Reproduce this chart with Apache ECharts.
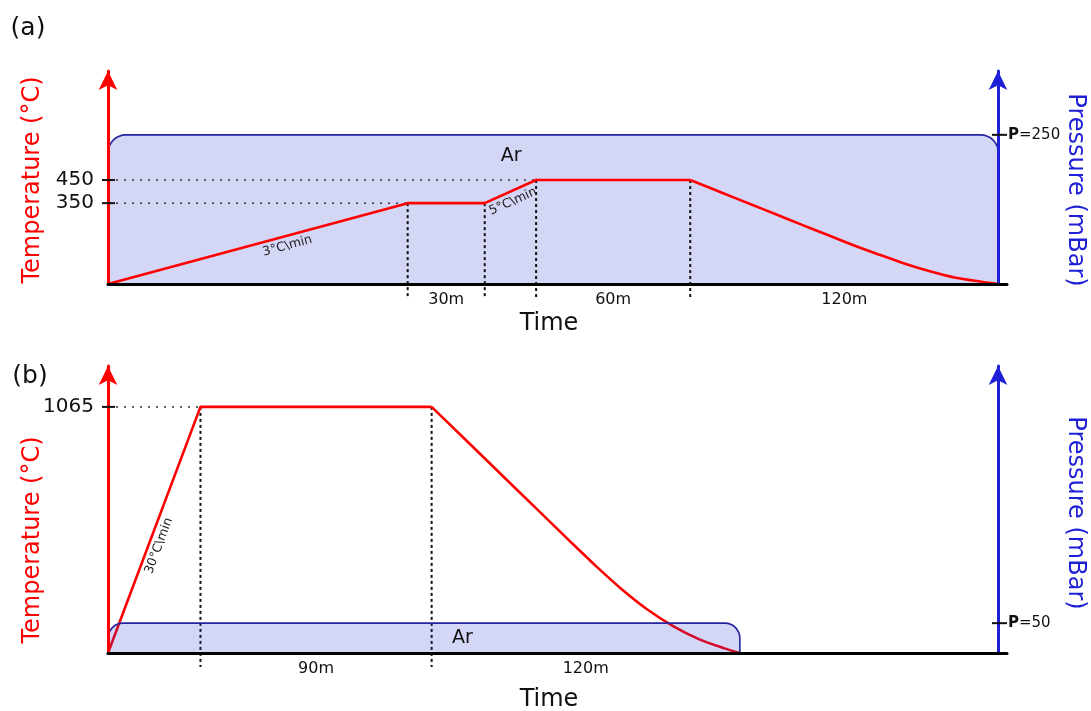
<!DOCTYPE html>
<html>
<head>
<meta charset="utf-8">
<script src="https://cdn.jsdelivr.net/npm/echarts@6/dist/echarts.min.js"></script>
<style>
  html, body { margin: 0; padding: 0; background: #fff; }
  #chart { width: 1091px; height: 711px; }
</style>
</head>
<body>
<div id="chart"></div>
<script>
// ---------- Profile (a): two-step anneal at 350 / 450 °C under Ar ----------
const rampTimeA = [0, 116.67, 146.67, 166.67, 226.67];          // min
const rampTempA = [0, 350, 350, 450, 450];                      // °C
const coolTimeA = [226.67, 240, 250, 260, 270, 280, 290, 300, 310, 320, 330, 340, 346.67];
const coolTempA = [450, 391, 346, 302, 257, 213, 169, 128, 89, 55, 27, 10, 0];
const gasNameA = 'Ar';
const gasPressureA = 250;                                       // mBar
const gasSpanA = [0, 346.67];
const tempTicksA = [350, 450];
const levelTimeA = [116.67, 166.67];                            // dotted level guides
const levelTempA = [350, 450];
const stepTimeA = [116.67, 146.67, 166.67, 226.67];             // dashed step guides
const stepTempA = [350, 350, 450, 450];
const spanLabelsA = ['30m', '60m', '120m'];
const spanStartA = [116.67, 166.67, 226.67];
const spanEndA = [146.67, 226.67, 346.67];
const rateLabelsA = ['3°C\\min', '5°C\\min'];
const rateFromA = [[0, 0], [146.67, 350]];
const rateToA = [[116.67, 350], [166.67, 450]];

// ---------- Profile (b): 1065 °C anneal, low Ar pressure ----------
const rampTimeB = [0, 36, 126];
const rampTempB = [0, 1065, 1065];
const coolTimeB = [126, 140, 150, 160, 170, 180, 190, 200, 210, 220, 230, 240, 246];
const coolTempB = [1065, 914, 806, 698, 590, 482, 376, 276, 188, 116, 60, 20, 0];
const gasNameB = 'Ar';
const gasPressureB = 50;
const gasSpanB = [0, 246];
const tempTicksB = [1065];
const levelTimeB = [36];
const levelTempB = [1065];
const stepTimeB = [36, 126];
const stepTempB = [1065, 1065];
const spanLabelsB = ['90m', '120m'];
const spanStartB = [36, 126];
const spanEndB = [126, 246];
const rateLabelsB = ['30°C\\min'];
const rateFromB = [[0, 0]];
const rateToB = [[36, 1065]];

// ---------- styling ----------
const FONT = 'DejaVu Sans';
const RED = '#ff0000';
const BLUE = '#1f1fd6';
const NAVY = '#24249e';
const INK = '#111111';
const GAS_FILL = 'rgba(40,48,210,0.2)';
const AXIS_INSET = 9;   // pressure axis sits this far inside the grid's right edge

const panels = [
  {
    ramp: rampTimeA.map((t, i) => [t, rampTempA[i]]),
    cool: coolTimeA.map((t, i) => [t, coolTempA[i]]),
    gas: [[gasSpanA[0], gasSpanA[1], gasPressureA]], gasName: gasNameA,
    ticks: tempTicksA.map(v => [0, v]),
    pTicks: [[0, gasPressureA]],
    levels: levelTimeA.map((t, i) => [t, levelTempA[i]]),
    steps: stepTimeA.map((t, i) => [t, stepTempA[i]]),
    spans: spanStartA.map((t, i) => [t, spanEndA[i]]), spanLabels: spanLabelsA,
    rates: rateFromA.map((p, i) => [p[0], p[1], rateToA[i][0], rateToA[i][1]]), rateLabels: rateLabelsA,
    ratePlace: [0.59, 0.47],
    gasOnTop: false, radius: 18, gasLabel: { t: 157, dy: 21 }
  },
  {
    ramp: rampTimeB.map((t, i) => [t, rampTempB[i]]),
    cool: coolTimeB.map((t, i) => [t, coolTempB[i]]),
    gas: [[gasSpanB[0], gasSpanB[1], gasPressureB]], gasName: gasNameB,
    ticks: tempTicksB.map(v => [0, v]),
    pTicks: [[0, gasPressureB]],
    levels: levelTimeB.map((t, i) => [t, levelTempB[i]]),
    steps: stepTimeB.map((t, i) => [t, stepTempB[i]]),
    spans: spanStartB.map((t, i) => [t, spanEndB[i]]), spanLabels: spanLabelsB,
    rates: rateFromB.map((p, i) => [p[0], p[1], rateToB[i][0], rateToB[i][1]]), rateLabels: rateLabelsB,
    ratePlace: [0.45],
    gasOnTop: true, radius: 15, gasLabel: { t: 138, dy: 15 }
  }
];

function panelSeries(g, d) {
  const xi = g, ti = 2 * g, pi = 2 * g + 1;
  const txt = (extra) => Object.assign({ fontFamily: FONT, fill: INK }, extra);
  return [
    // gas pressure plateau
    {
      type: 'custom', xAxisIndex: xi, yAxisIndex: pi, z: d.gasOnTop ? 4 : 1,
      data: d.gas, encode: { x: [0, 1], y: 2 },
      renderItem: (params, api) => {
        const a = api.coord([api.value(0), api.value(2)]);
        const b = api.coord([api.value(1), 0]);
        const lx = api.coord([d.gasLabel.t, 0])[0];
        return {
          type: 'group', children: [
            { type: 'rect', shape: { x: a[0], y: a[1], width: b[0] - a[0], height: b[1] - a[1], r: [d.radius, d.radius, 0, 0] },
              style: { fill: GAS_FILL, stroke: NAVY, lineWidth: 1.6 } },
            { type: 'text', x: lx, y: a[1] + d.gasLabel.dy,
              style: txt({ text: d.gasName, fontSize: 19, align: 'center', verticalAlign: 'middle' }) }
          ]
        };
      }
    },
    // temperature program
    {
      type: 'line', xAxisIndex: xi, yAxisIndex: ti, z: 3, data: d.ramp,
      symbol: 'none', lineStyle: { color: RED, width: 2.6 }, silent: true
    },
    {
      type: 'line', xAxisIndex: xi, yAxisIndex: ti, z: 3, data: d.cool,
      smooth: 0.3,
      symbol: 'none', lineStyle: { color: RED, width: 2.6 }, silent: true
    },
    // dotted level guides from the temperature axis
    {
      type: 'custom', xAxisIndex: xi, yAxisIndex: ti, z: 2, data: d.levels,
      renderItem: (params, api) => {
        const p = api.coord([api.value(0), api.value(1)]);
        const x0 = api.coord([0, api.value(1)])[0];
        return { type: 'line', shape: { x1: x0, y1: p[1], x2: p[0], y2: p[1] },
          style: { stroke: '#333', lineWidth: 1.5, lineDash: [2, 6] } };
      }
    },
    // dashed step guides down past the time axis
    {
      type: 'custom', xAxisIndex: xi, yAxisIndex: ti, z: 2, data: d.steps,
      renderItem: (params, api) => {
        const p = api.coord([api.value(0), api.value(1)]);
        const yb = api.coord([api.value(0), 0])[1];
        return { type: 'line', shape: { x1: p[0], y1: p[1], x2: p[0], y2: yb + 14 },
          style: { stroke: INK, lineWidth: 2, lineDash: [3, 3] } };
      }
    },
    // temperature ticks and labels
    {
      type: 'custom', xAxisIndex: xi, yAxisIndex: ti, z: 11, data: d.ticks,
      renderItem: (params, api) => {
        const p = api.coord([api.value(0), api.value(1)]);
        return {
          type: 'group', children: [
            { type: 'line', shape: { x1: p[0] - 6, y1: p[1], x2: p[0] + 7, y2: p[1] }, style: { stroke: INK, lineWidth: 2 } },
            { type: 'text', x: p[0] - 14, y: p[1],
              style: txt({ text: String(api.value(1)), fontSize: 20, align: 'right', verticalAlign: 'middle' }) }
          ]
        };
      }
    },
    // pressure tick and label
    {
      type: 'custom', xAxisIndex: xi, yAxisIndex: pi, z: 11, data: d.pTicks,
      renderItem: (params, api) => {
        const cs = params.coordSys;
        const x = cs.x + cs.width - AXIS_INSET;
        const y = api.coord([0, api.value(1)])[1];
        return {
          type: 'group', children: [
            { type: 'line', shape: { x1: x - 6, y1: y, x2: x + 9, y2: y }, style: { stroke: INK, lineWidth: 2 } },
            { type: 'text', x: x + 10, y: y,
              style: txt({ text: '{b|P}=' + api.value(1), fontSize: 15, align: 'left', verticalAlign: 'middle',
                rich: { b: { fontFamily: FONT, fontSize: 15, fontWeight: 'bold', fill: INK } } }) }
          ]
        };
      }
    },
    // segment duration labels
    {
      type: 'custom', xAxisIndex: xi, yAxisIndex: ti, z: 5, data: d.spans,
      renderItem: (params, api) => {
        const a = api.coord([api.value(0), 0]);
        const b = api.coord([api.value(1), 0]);
        return { type: 'text', x: (a[0] + b[0]) / 2, y: a[1] + 16,
          style: txt({ text: d.spanLabels[params.dataIndex], fontSize: 16, align: 'center', verticalAlign: 'middle' }) };
      }
    },
    // heating-rate labels along the ramps
    {
      type: 'custom', xAxisIndex: xi, yAxisIndex: ti, z: 5, data: d.rates,
      renderItem: (params, api) => {
        const p0 = api.coord([api.value(0), api.value(1)]);
        const p1 = api.coord([api.value(2), api.value(3)]);
        const th = Math.atan2(p0[1] - p1[1], p1[0] - p0[0]);
        const f = d.ratePlace[params.dataIndex];
        const off = 10;
        return { type: 'text',
          x: p0[0] + f * (p1[0] - p0[0]) + off * Math.sin(th),
          y: p0[1] + f * (p1[1] - p0[1]) + off * Math.cos(th),
          rotation: th,
          style: txt({ text: d.rateLabels[params.dataIndex], fontSize: 12.5, fill: '#222', align: 'center', verticalAlign: 'middle' }) };
      }
    }
  ];
}

const gridA = { left: 108, top: 71, width: 899, height: 213 };
const gridB = { left: 108, top: 366, width: 899, height: 287 };

function timeAxis(g) {
  return {
    type: 'value', gridIndex: g, min: 0, max: 350, z: 10,
    axisLine: { show: true, onZero: false, lineStyle: { color: '#000', width: 3 } },
    axisTick: { show: false }, axisLabel: { show: false }, splitLine: { show: false }
  };
}
function sideAxis(g, max, color, right) {
  return {
    type: 'value', gridIndex: g, min: 0, max: max, z: 10,
    position: right ? 'right' : 'left', offset: right ? -AXIS_INSET : 0,
    axisLine: { show: true, onZero: false, symbol: ['none', 'arrow'], symbolSize: [14, 19],
      lineStyle: { color: color, width: 3 } },
    axisTick: { show: false }, axisLabel: { show: false }, splitLine: { show: false }
  };
}

function title(text, x, y, opts) {
  return {
    type: 'text', x: x, y: y, rotation: opts.rotation || 0, z: 20,
    style: { text: text, fontFamily: FONT, fontSize: opts.size || 24, fill: opts.color || INK,
      align: 'center', verticalAlign: 'middle' }
  };
}

const chart = echarts.init(document.getElementById('chart'), null, { renderer: 'canvas' });
chart.setOption({
  animation: false,
  backgroundColor: '#ffffff',
  grid: [Object.assign({ outerBoundsMode: 'none' }, gridA), Object.assign({ outerBoundsMode: 'none' }, gridB)],
  xAxis: [timeAxis(0), timeAxis(1)],
  yAxis: [
    sideAxis(0, 922, RED, false), sideAxis(0, 357, BLUE, true),
    sideAxis(1, 1242, RED, false), sideAxis(1, 481, BLUE, true)
  ],
  series: [].concat(panelSeries(0, panels[0]), panelSeries(1, panels[1])),
  graphic: [
    title('(a)', 28, 28, { size: 25 }),
    title('(b)', 30, 376, { size: 25 }),
    title('Temperature (°C)', 33, 180, { color: RED, rotation: Math.PI / 2 }),
    title('Temperature (°C)', 33, 540, { color: RED, rotation: Math.PI / 2 }),
    title('Pressure (mBar)', 1075, 190, { color: BLUE, rotation: -Math.PI / 2 }),
    title('Pressure (mBar)', 1075, 513, { color: BLUE, rotation: -Math.PI / 2 }),
    title('Time', 549, 324, {}),
    title('Time', 549, 700, {})
  ]
});
</script>
</body>
</html>
